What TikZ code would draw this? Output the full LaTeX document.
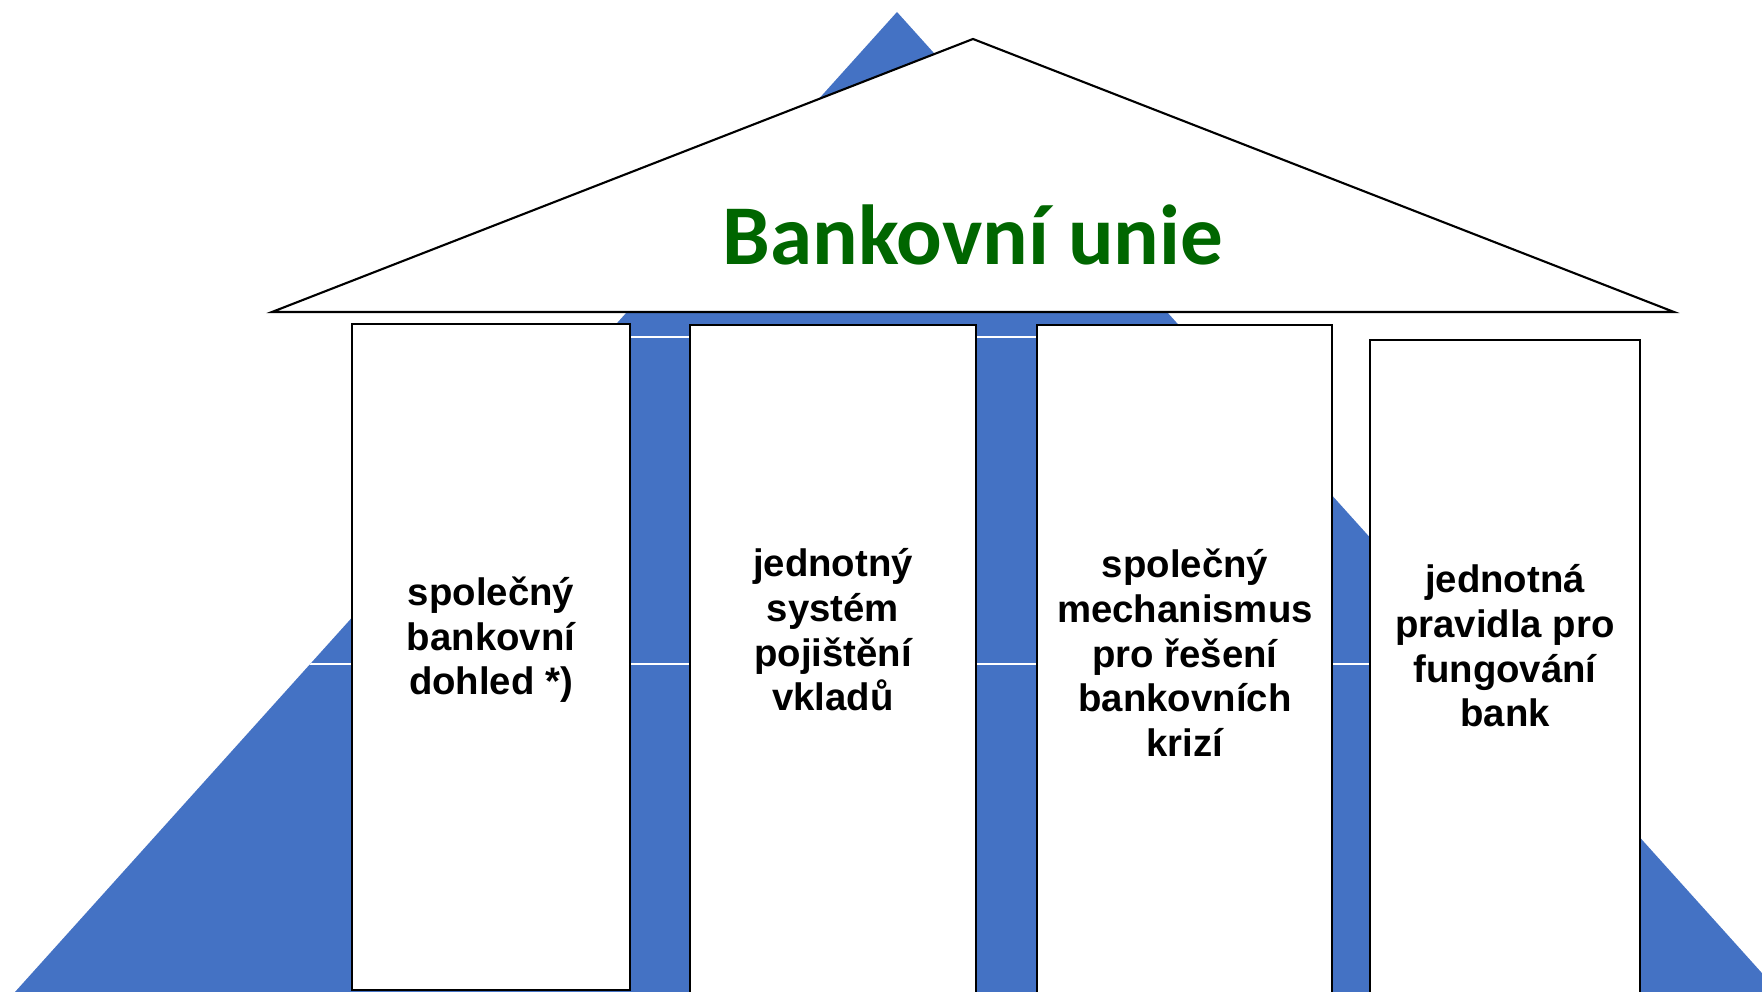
\documentclass[tikz,border=0pt]{standalone}
\usepackage{fontspec}
\setmainfont{Liberation Sans}
\newfontfamily\titlefont{Carlito}
\usetikzlibrary{positioning}

\definecolor{pyramidblue}{RGB}{68,114,196}
\definecolor{uniongreen}{RGB}{0,102,0}

\tikzset{
    pillar/.style={draw=black, line width=0.7pt, fill=white},
    pillartext/.style={align=center, inner sep=0pt,
        font=\bfseries\fontsize{10.9}{12.7}\selectfont},
    gapline/.style={draw=white, line width=0.8pt},
}

\begin{document}
\begin{tikzpicture}[x=0.01cm,y=-0.01cm]
\clip (0,0) rectangle (1762,992);

% Blue pyramid behind the building
\coordinate (apex) at (897,12);
\coordinate (baseL) at (15,992);
\coordinate (baseR) at (1779,992);
\fill[pyramidblue] (apex) -- (baseL) -- (baseR) -- cycle;
\begin{scope}
    \clip (apex) -- (baseL) -- (baseR) -- cycle;
    \draw[gapline] (0,337) -- (1762,337);
    \draw[gapline] (0,664) -- (1762,664);
\end{scope}

% Roof
\coordinate (roofL) at (272,312);
\coordinate (roofT) at (973,39);
\coordinate (roofR) at (1674,312);
\draw
[
    fill=white,
    draw=black,
    line width=0.6pt
] (roofL) -- (roofT) -- (roofR) -- cycle;
\draw[line width=0.8pt] (roofL) -- (roofR);

\node
[
    anchor=base,
    text=uniongreen,
    inner sep=0pt,
    font=\titlefont\bfseries\fontsize{24.2}{29}\selectfont
] (title) at (973,265) {Bankovní unie};

% Pillars
\draw[pillar] (352,324) rectangle (630,990);
\draw[pillar] (690,325) rectangle (976,1010);
\draw[pillar] (1037,325) rectangle (1332,1010);
\draw[pillar] (1370,340) rectangle (1640,1010);

% Pillar texts
\node[pillartext] (dohled) at (491,640) {společný\\bankovní\\dohled *)};
\node[pillartext] (pojisteni) at (833,630) {jednotný\\systém\\pojištění\\vkladů};
\node[pillartext] (reseni) at (1185,653) {společný\\mechanismus\\pro řešení\\bankovních\\krizí};
\node[pillartext] (pravidla) at (1505,646) {jednotná\\pravidla pro\\fungování\\bank};
\end{tikzpicture}
\end{document}
